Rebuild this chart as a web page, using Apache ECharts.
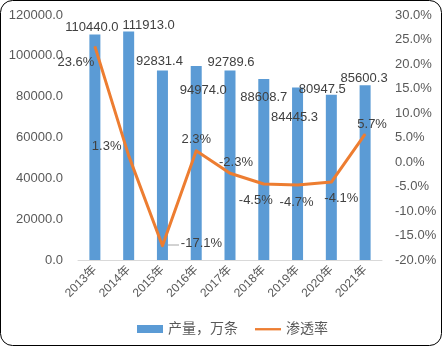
<!DOCTYPE html>
<html><head><meta charset="utf-8">
<script src="https://cdn.jsdelivr.net/npm/echarts@6/dist/echarts.min.js"></script>
<style>html,body{margin:0;padding:0;background:#fff}#c{width:443px;height:347px}</style>
</head><body><div id="c"></div>
<script>
const categories = ['2013年','2014年','2015年','2016年','2017年','2018年','2019年','2020年','2021年'];
const output = [110440.0, 111913.0, 92831.4, 94974.0, 92789.6, 88608.7, 84445.3, 80947.5, 85600.3];
const penetration = [23.6, 1.3, -17.1, 2.3, -2.3, -4.5, -4.7, -4.1, 5.7];
const leftTicks = {min: 0, max: 120000, interval: 20000};
const rightTicks = {min: -20, max: 30, interval: 5};

const FONT = '"Liberation Sans", "Noto Sans CJK SC", sans-serif';
const barOffsets = [[-3,4],[20,5],[-3,2],[7,36],[1,3],[0,30],[-3,41],[-9,6],[-1,5]];
const lineOffsets = [[-19,16],[-22,-9],[39,-2],[0,-11],[6,-11],[-8,16],[-1,17],[10,16],[7,-10]];

const chart = echarts.init(document.getElementById('c'), null, {renderer:'canvas'});
chart.setOption({
  animation: false,
  textStyle: {fontFamily: FONT},
  grid: {left: 78, right: 61, top: 15, bottom: 87},
  legend: {
    top: 317, left: 132, itemGap: 17, itemWidth: 26, itemHeight: 8,
    textStyle: {fontSize: 14, color: '#595959', fontFamily: FONT},
    data: [
      {name: '产量，万条', icon: 'rect'},
      {name: '渗透率', icon: 'path://M0,0 M0,3H28V5.5H0Z M28,8'}
    ]
  },
  graphic: [
    {
      type: 'rect', silent: true, z: 100,
      shape: {x: 0.5, y: 0.5, width: 441, height: 345, r: 12},
      style: {fill: 'none', stroke: '#000', lineWidth: 1}
    },
    {
      type: 'line', silent: true, z: 100,
      shape: {x1: 168, y1: 245, x2: 179, y2: 245},
      style: {stroke: '#a6a6a6', lineWidth: 1}
    }
  ],
  xAxis: {
    type: 'category', data: categories,
    axisLine: {lineStyle: {color: '#d9d9d9'}},
    axisTick: {show: false},
    axisLabel: {rotate: 45, fontSize: 12, color: '#595959', margin: 8, interval: 0}
  },
  yAxis: [
    {type: 'value', min: leftTicks.min, max: leftTicks.max, interval: leftTicks.interval,
     splitLine: {show: false}, axisLine: {show: false}, axisTick: {show: false},
     axisLabel: {fontSize: 13, color: '#595959', margin: 15, formatter: v => v.toFixed(1)}},
    {type: 'value', min: rightTicks.min, max: rightTicks.max, interval: rightTicks.interval,
     splitLine: {show: false}, axisLine: {show: false}, axisTick: {show: false},
     axisLabel: {fontSize: 13, color: '#595959', margin: 13, formatter: v => v.toFixed(1) + '%'}}
  ],
  series: [
    {
      name: '产量，万条', type: 'bar', barWidth: 11,
      itemStyle: {color: '#5B9BD5'},
      data: output.map((v, i) => ({
        value: v,
        label: {show: true, position: 'top', offset: barOffsets[i], fontSize: 13, color: '#404040',
                formatter: p => p.value.toFixed(1)}
      }))
    },
    {
      name: '渗透率', type: 'line', yAxisIndex: 1, smooth: false,
      symbol: 'circle', symbolSize: 1,
      lineStyle: {color: '#ED7D31', width: 3, join: 'round'},
      itemStyle: {color: '#ED7D31'},
      data: penetration.map((v, i) => ({
        value: v,
        label: {show: true, position: 'inside', offset: lineOffsets[i], fontSize: 13, color: '#404040',
                formatter: p => p.value.toFixed(1) + '%'}
      }))
    }
  ]
});
</script></body></html>
